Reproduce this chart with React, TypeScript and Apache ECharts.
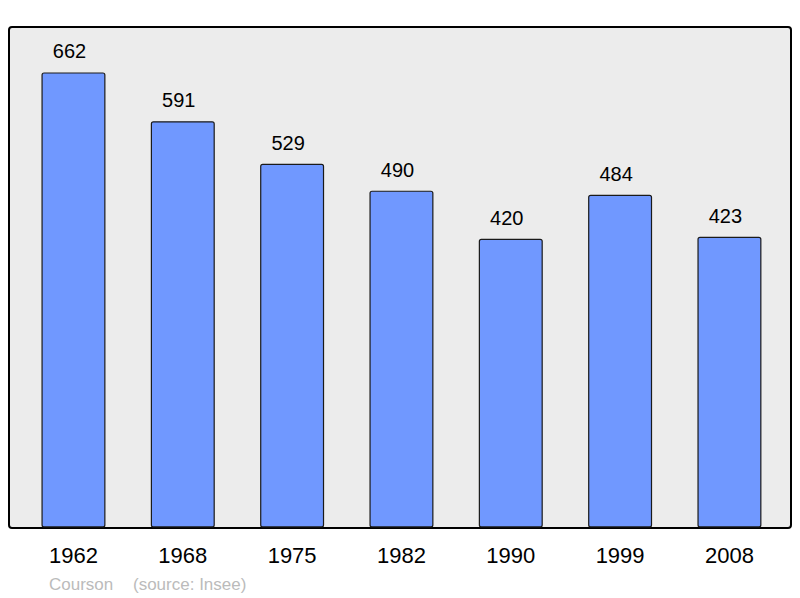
import React, { useEffect, useRef } from "react";
import * as echarts from "echarts";

const years = ["1962", "1968", "1975", "1982", "1990", "1999", "2008"];
const population = [662, 591, 529, 490, 420, 484, 423];
const footerName = "Courson";
const footerSource = "(source: Insee)";

export default function App() {
  const ref = useRef<HTMLDivElement>(null);
  useEffect(() => {
    const chart = echarts.init(ref.current!, null, { renderer: "svg" });
    const font = "Liberation Sans, Arial, sans-serif";
    chart.setOption({
      animation: false,
      textStyle: { fontFamily: font },
      graphic: [
        {
          type: "rect",
          z: -10,
          shape: { x: 9, y: 27, width: 782, height: 501, r: 3 },
          style: { fill: "#ececec", stroke: "#000", lineWidth: 2 },
        },
        {
          type: "text",
          x: 49,
          y: 584,
          style: {
            text: footerName,
            fill: "#bbbbbb",
            font: "17px " + font,
            verticalAlign: "middle",
          },
        },
        {
          type: "text",
          x: 133,
          y: 584,
          style: {
            text: footerSource,
            fill: "#bbbbbb",
            font: "17px " + font,
            verticalAlign: "middle",
          },
        },
      ],
      grid: { left: 18.8, width: 765.3, top: 27, bottom: 70.5 },
      xAxis: {
        type: "category",
        data: years,
        axisLine: { show: false },
        axisTick: { show: false },
        axisLabel: {
          color: "#000",
          fontSize: 22,
          margin: 17,
          fontFamily: font,
        },
      },
      yAxis: {
        type: "value",
        min: 0,
        max: 728,
        show: false,
        splitLine: { show: false },
      },
      series: [
        {
          type: "bar",
          data: population,
          barWidth: 64,
          itemStyle: {
            color: "#7098ff",
            borderColor: "#1a1a1a",
            borderWidth: 1.2,
            borderRadius: 2,
          },
          label: {
            show: true,
            position: "top",
            distance: 11,
            offset: [-4, 0],
            color: "#000",
            fontSize: 20,
            fontFamily: font,
          },
        },
      ],
    });
    return () => chart.dispose();
  }, []);
  return <div ref={ref} style={{ width: 800, height: 598, position: "absolute", left: 0, top: 0 }} />;
}
